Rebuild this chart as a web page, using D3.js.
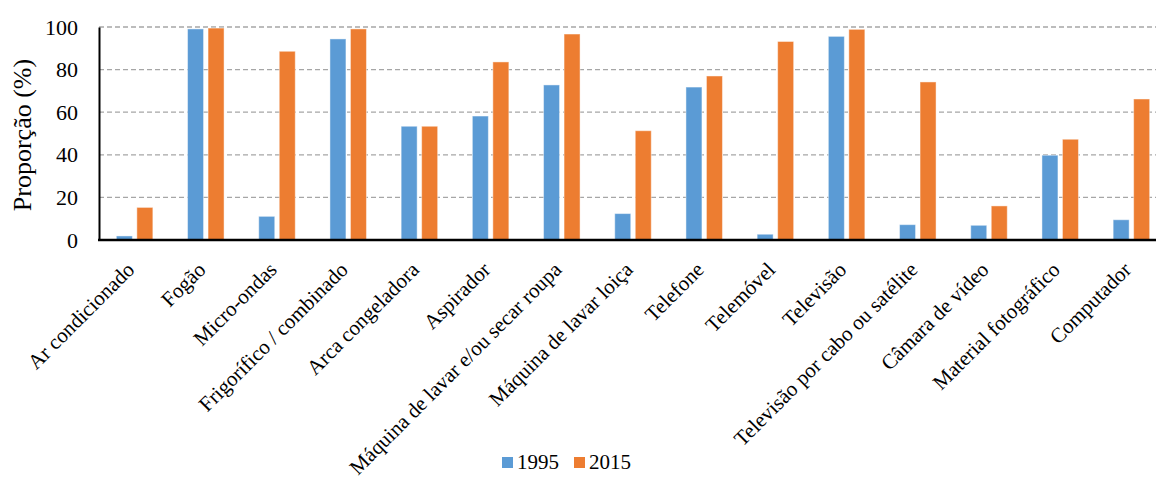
<!DOCTYPE html>
<html>
<head>
<meta charset="utf-8">
<script src="https://cdn.jsdelivr.net/npm/d3@7"></script>
<style>
    body { margin: 0; background: #fff; }
    text { font-family: "Liberation Serif", "Times New Roman", serif; fill: #000; }
    .grid line { stroke: #a6a6a6; stroke-dasharray: 5,3; stroke-width: 1.3; }
</style>
</head>
<body>
<svg width="1156" height="480"></svg>
<script>
const width = 1156;
const height = 480;

const categories = [
    'Ar condicionado', 'Fogão', 'Micro-ondas', 'Frigorífico / combinado',
    'Arca congeladora', 'Aspirador', 'Máquina de lavar e/ou secar roupa',
    'Máquina de lavar loiça', 'Telefone', 'Telemóvel', 'Televisão',
    'Televisão por cabo ou satélite', 'Câmara de vídeo', 'Material fotográfico',
    'Computador'
];
const series = ['1995', '2015'];
const values1995 = [1.9, 99.1, 11.1, 94.4, 53.4, 58.2, 72.8, 12.4, 71.8, 2.7, 95.6, 7.2, 6.9, 39.8, 9.5];
const values2015 = [15.3, 99.5, 88.6, 99.1, 53.4, 83.6, 96.7, 51.3, 77.0, 93.2, 98.9, 74.2, 16.0, 47.3, 66.2];
const yTicks = [0, 20, 40, 60, 80, 100];
const colors = ['#5b9bd5', '#ed7d31'];

const svg = d3.select('svg');

const margin = { top: 27, left: 99, bottom: 240 };

const x0 = d3.scaleBand()
    .domain(categories)
    .range([margin.left, 1167]);

const x1 = d3.scaleBand()
    .domain(series)
    .range([0, 36.5])
    .paddingInner(0.22);

const y = d3.scaleLinear()
    .domain([0, 100])
    .range([margin.bottom, margin.top]);

const color = d3.scaleOrdinal().domain(series).range(colors);

// grid
svg.append('g')
    .attr('class', 'grid')
    .selectAll('line')
    .data(yTicks.filter(d => d > 0))
    .enter()
    .append('line')
    .attr('x1', margin.left)
    .attr('x2', width)
    .attr('y1', d => y(d))
    .attr('y2', d => y(d));

// bars
const rows = categories.map((c, i) => ({ cat: c, vals: [values1995[i], values2015[i]] }));
const offset = (x0.bandwidth() - 36.5) / 2;

svg.append('g')
    .selectAll('g')
    .data(rows)
    .enter()
    .append('g')
    .attr('transform', d => 'translate(' + (x0(d.cat) + offset) + ',0)')
    .selectAll('rect')
    .data(d => series.map((s, j) => ({ s: s, v: d.vals[j] })))
    .enter()
    .append('rect')
    .attr('x', d => x1(d.s))
    .attr('y', d => y(d.v))
    .attr('width', x1.bandwidth())
    .attr('height', d => y(0) - y(d.v))
    .attr('fill', d => color(d.s))
    .attr('stroke', '#fff')
    .attr('stroke-opacity', 0.45)
    .attr('stroke-width', 1);

// y axis
const yAxisG = svg.append('g')
    .attr('transform', 'translate(' + margin.left + ',0)')
    .call(d3.axisLeft(y).tickValues(yTicks).tickSize(0).tickPadding(21));
yAxisG.select('.domain').attr('stroke', '#000').attr('stroke-width', 2);
yAxisG.selectAll('.tick text')
    .attr('font-family', '"Liberation Serif", serif')
    .attr('font-size', 22)
    .attr('fill', '#000');

// x axis line
svg.append('line')
    .attr('x1', margin.left - 1)
    .attr('x2', width)
    .attr('y1', y(0))
    .attr('y2', y(0))
    .attr('stroke', '#000')
    .attr('stroke-width', 2.5);

// category labels
svg.append('g')
    .selectAll('text')
    .data(categories)
    .enter()
    .append('text')
    .attr('transform', d => 'translate(' + (x0(d) + x0.bandwidth() / 2 + 1) + ',271) rotate(-45)')
    .attr('text-anchor', 'end')
    .attr('font-size', 21)
    .text(d => d);

// y title
svg.append('text')
    .attr('transform', 'translate(31,135) rotate(-90)')
    .attr('text-anchor', 'middle')
    .attr('font-size', 26)
    .text('Proporção (%)');

// legend
const legend = svg.append('g')
    .selectAll('g')
    .data(series)
    .enter()
    .append('g')
    .attr('transform', (d, i) => 'translate(' + [502, 574][i] + ',457)');

legend.append('rect')
    .attr('width', 11)
    .attr('height', 11)
    .attr('fill', d => color(d));

legend.append('text')
    .attr('x', 15)
    .attr('y', 12)
    .attr('font-size', 21)
    .text(d => d);
</script>
</body>
</html>
